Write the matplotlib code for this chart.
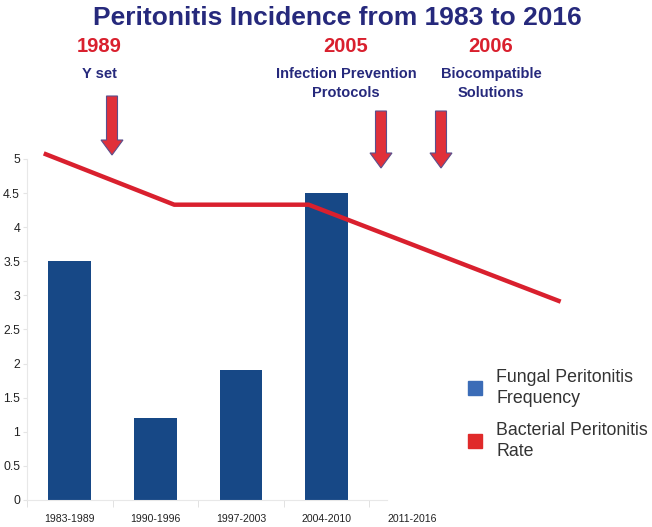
import matplotlib.pyplot as plt
from matplotlib.patches import FancyArrow, Patch

# data
periods = ["1983-1989", "1990-1996", "1997-2003", "2004-2010", "2011-2016"]
fungal = [3.5, 1.2, 1.9, 4.5, 0]
bact_x = [-0.28, 1.22, 2.79, 5.71]
bact_y = [5.07, 4.33, 4.33, 2.92]
events = ["1989", "2005", "2006"]
event_text = ["Y set", "Infection Prevention\nProtocols", "Biocompatible\nSolutions"]

navy = "#26297c"
red = "#d9202e"
bar_blue = "#174886"

plt.rcParams['font.family'] = ['Liberation Sans', 'DejaVu Sans']

W, H = 652, 527
fig = plt.figure(figsize=(W / 100, H / 100), dpi=100)
ax = fig.add_axes([27 / W, 1 - 500 / H, 428 / W, 341 / H])

xs = list(range(len(periods)))
ax.bar(xs, fungal, width=0.5, color=bar_blue, zorder=2)
ax.plot(bact_x, bact_y, color=red, lw=3.2, clip_on=False, zorder=3)

ax.set_xlim(-0.5, 4.5)
ax.set_ylim(0, 5)
ax.set_yticks([0, 0.5, 1, 1.5, 2, 2.5, 3, 3.5, 4, 4.5, 5])
ax.set_yticklabels(["0", "0.5", "1", "1.5", "2", "2.5", "3", "3.5", "4", "4.5", "5"])
ax.set_xticks(xs)
ax.set_xticklabels(periods)
ax.set_xticks([-0.5, 0.5, 1.5, 2.5, 3.5], minor=True)
ax.tick_params(axis='x', which='major', length=0, pad=10, labelsize=7.6, colors="#222222")
ax.tick_params(axis='x', which='minor', length=5, color="#dddddd")
ax.tick_params(axis='y', length=3, color="#e4e4e4", labelsize=8.8, labelcolor="#222222", pad=2)
for s in ["top", "right"]:
    ax.spines[s].set_visible(False)
ax.spines["left"].set_color("#e8e8e8")
ax.spines["bottom"].set_color("#e8e8e8")
ax.spines["bottom"].set_bounds(-0.5, 3.71)

fig.text(337 / W, 1 - 18 / H, "Peritonitis Incidence from 1983 to 2016", ha="center", va="center",
         fontsize=19, fontweight="bold", color=navy)

ev_x = [99, 346, 491]
for x, yr, txt in zip(ev_x, events, event_text):
    fig.text(x / W, 1 - 46 / H, yr, ha="center", va="center", fontsize=14.5, fontweight="bold", color=red)
    fig.text(x / W, 1 - 67 / H, txt, ha="center", va="top", fontsize=10.5, fontweight="bold",
             color=navy, linespacing=1.45)

# arrows (pixel positions, top-left origin)
for ax_x, top, tip in [(112, 96, 155), (381, 111, 168), (441, 111, 168)]:
    arr = FancyArrow(ax_x / 100, (H - top) / 100, 0, -(tip - top) / 100, width=0.11,
                     head_width=0.22, head_length=0.15, length_includes_head=True,
                     transform=fig.dpi_scale_trans, facecolor="#e0303a", edgecolor="#5a4f8c", lw=0.8)
    fig.patches.append(arr)

handles = [Patch(facecolor="#3b6cb7", edgecolor="#3b6cb7"), Patch(facecolor="#e02a2a", edgecolor="#e02a2a")]
fig.legend(handles, ["Fungal Peritonitis\nFrequency", "Bacterial Peritonitis\nRate"],
           loc="upper left", bbox_to_anchor=(452 / W, 1 - 353 / H), frameon=False,
           fontsize=12.8, handlelength=0.8, handleheight=0.8, handletextpad=0.8,
           labelspacing=0.85, labelcolor="#333333")
for t in fig.legends[0].get_texts():
    t.set_linespacing(1.3)

fig.savefig("out.png", dpi=100)
